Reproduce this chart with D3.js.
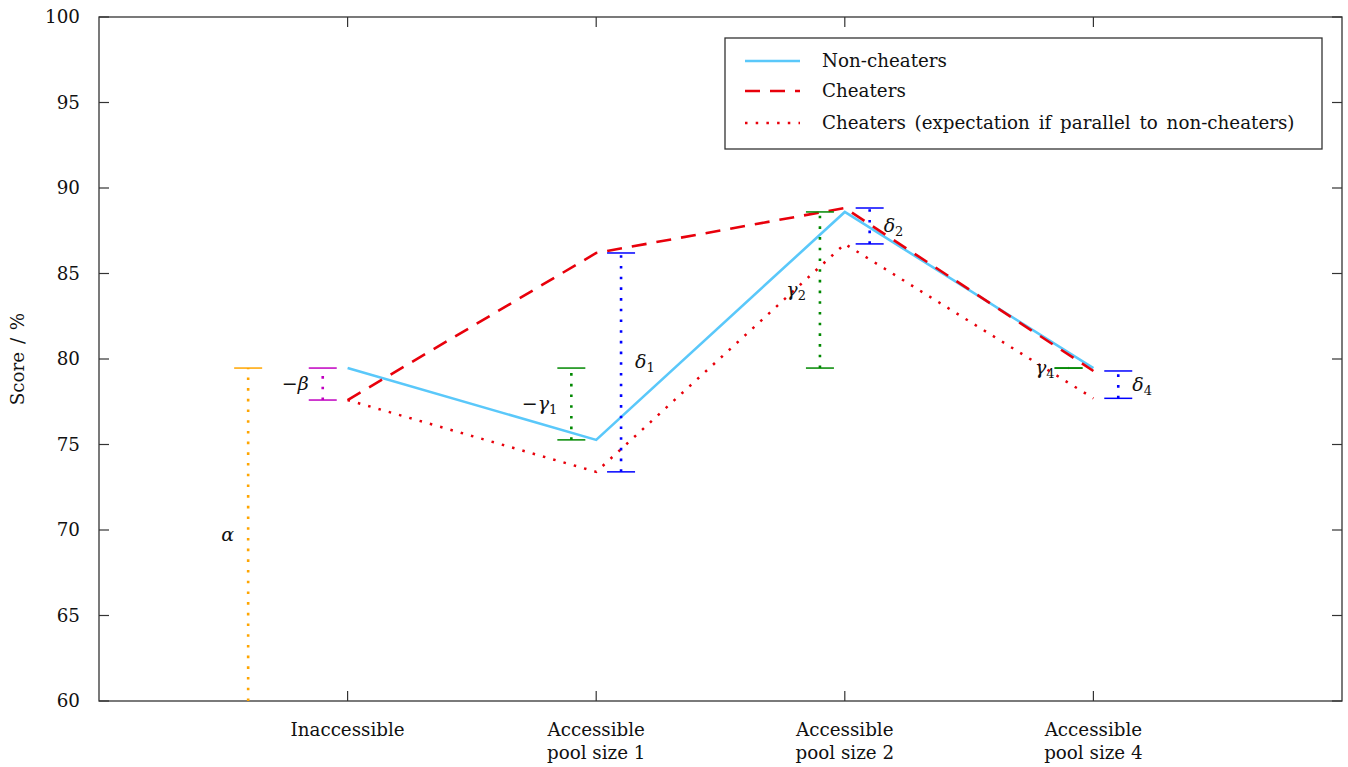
<!DOCTYPE html>
<html><head><meta charset="utf-8">
<script src="https://cdn.jsdelivr.net/npm/d3@7"></script>
<style>
body{margin:0;background:#fff;}
text{font-family:"DejaVu Serif","Liberation Serif",serif;fill:#111;}
</style></head>
<body><svg id="c" width="1348" height="767"></svg>
<script>
const categories = [["Inaccessible"],["Accessible","pool size 1"],["Accessible","pool size 2"],["Accessible","pool size 4"]];
const nonCheaters = [79.47, 75.27, 88.6, 79.47];
const cheaters = [77.6, 86.2, 88.83, 79.3];
const expectation = [77.6, 73.4, 86.73, 77.7];
const yTicks = [60,65,70,75,80,85,90,95,100];
// annotations: label, subscript, category index, offset, low, high, colour, label side
const annNames = ["α","−β","−γ","δ","γ","δ","γ","δ"];
const annSubs = ["","","1","1","2","2","4","4"];
const annCat = [0,0,1,1,2,2,3,3];
const annOff = [-0.4,-0.1,-0.1,0.1,-0.1,0.1,-0.1,0.1];
const annLow = [60,77.6,75.27,73.4,79.47,86.73,79.47,77.7];
const annHigh = [79.47,79.47,79.47,86.2,88.6,88.83,79.47,79.3];
const annColor = ["#ffa500","#c000c0","#008800","#0000ff","#008800","#0000ff","#008800","#0000ff"];
const annSide = ["left","left","left","right","left","right","left","right"];

const svg = d3.select("#c");
const L=99,R=1342,T=17,B=701;
const x = d3.scaleLinear().domain([0,5]).range([L,R]);
const y = d3.scaleLinear().domain([60,100]).range([B,T]);
const FS=18.3;

svg.append("rect").attr("x",L).attr("y",T).attr("width",R-L).attr("height",B-T)
  .attr("fill","none").attr("stroke","#333").attr("stroke-width",1.3);
yTicks.forEach(v=>{
  svg.append("line").attr("x1",L).attr("x2",L+10).attr("y1",y(v)).attr("y2",y(v)).attr("stroke","#333").attr("stroke-width",1.2);
  svg.append("line").attr("x1",R-10).attr("x2",R).attr("y1",y(v)).attr("y2",y(v)).attr("stroke","#333").attr("stroke-width",1.2);
  svg.append("text").attr("x",L-19).attr("y",y(v)+6).attr("text-anchor","end").attr("font-size",FS).text(v);
});
categories.forEach((c,i)=>{
  const cx=x(i+1);
  svg.append("line").attr("x1",cx).attr("x2",cx).attr("y1",B).attr("y2",B-10).attr("stroke","#333").attr("stroke-width",1.2);
  svg.append("line").attr("x1",cx).attr("x2",cx).attr("y1",T).attr("y2",T+10).attr("stroke","#333").attr("stroke-width",1.2);
  const t=svg.append("text").attr("x",cx).attr("y",736).attr("text-anchor","middle").attr("font-size",FS);
  c.forEach((s,j)=>t.append("tspan").attr("x",cx).attr("dy",j?23:0).text(s));
});
svg.append("text").attr("transform",`translate(24,${(T+B)/2}) rotate(-90)`).attr("text-anchor","middle").attr("font-size",FS).attr("word-spacing",2).text("Score / %");

const line = d3.line().x((d,i)=>x(i+1)).y(d=>y(d));
svg.append("path").datum(nonCheaters).attr("d",line).attr("fill","none").attr("stroke","#5ac8fa").attr("stroke-width",2.6);
svg.append("path").datum(cheaters).attr("d",line).attr("fill","none").attr("stroke","#e8000b").attr("stroke-width",2.6).attr("stroke-dasharray","15,10");
svg.append("path").datum(expectation).attr("d",line).attr("fill","none").attr("stroke","#e8000b").attr("stroke-width",2.5).attr("stroke-dasharray","2.5,8.2");

annNames.forEach((n,i)=>{
  const ax = x(annCat[i]+1+annOff[i]);
  const y0=y(annLow[i]), y1=y(annHigh[i]);
  const col=annColor[i];
  svg.append("line").attr("x1",ax).attr("x2",ax).attr("y1",y0).attr("y2",y1).attr("stroke",col).attr("stroke-width",2.6).attr("stroke-dasharray","2.6,8.1");
  [y0,y1].forEach(yy=>{
    if(i===0 && yy===y0) return;
    svg.append("line").attr("x1",ax-14).attr("x2",ax+14).attr("y1",yy).attr("y2",yy).attr("stroke",col).attr("stroke-width",1.5);
  });
  const ym=(y0+y1)/2;
  const t=svg.append("text").attr("font-size",19).attr("font-style","italic")
    .attr("y",ym+6).attr("x",annSide[i]==="left"?ax-14:ax+14).attr("text-anchor",annSide[i]==="left"?"end":"start");
  t.append("tspan").text(n);
  if(annSubs[i]) t.append("tspan").attr("font-style","normal").attr("font-size",13).attr("dy",4).text(annSubs[i]);
});

const lg = svg.append("g");
lg.append("rect").attr("x",725).attr("y",38).attr("width",597).attr("height",111).attr("fill","#fff").attr("stroke","#333").attr("stroke-width",1.3);
const legNames=["Non-cheaters","Cheaters","Cheaters (expectation if parallel to non-cheaters)"];
const legStyles=[["#5ac8fa",null],["#e8000b","15,10"],["#e8000b","2.5,8.2"]];
const legY=[61,91,123];
legNames.forEach((n,i)=>{
  const l=lg.append("line").attr("x1",745).attr("x2",800).attr("y1",legY[i]).attr("y2",legY[i]).attr("stroke",legStyles[i][0]).attr("stroke-width",2.6);
  if(legStyles[i][1]) l.attr("stroke-dasharray",legStyles[i][1]);
  lg.append("text").attr("x",822).attr("y",legY[i]+6).attr("font-size",FS).attr("word-spacing",3).text(n);
});
</script></body></html>
